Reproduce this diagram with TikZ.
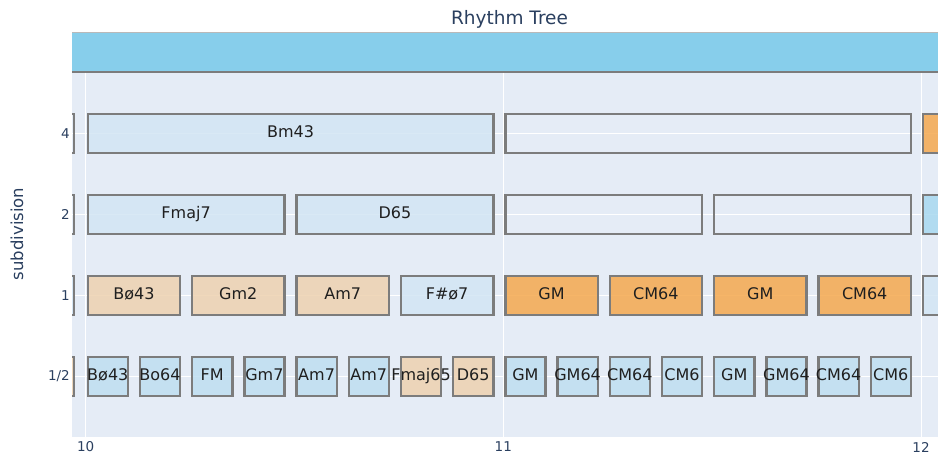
\documentclass[tikz,border=0pt]{standalone}
\usepackage{fontspec}
\setmainfont{DejaVu Sans}
\usepackage{xcolor}
\usepackage{tikz}

\definecolor{plotbg}{HTML}{E5ECF6}
\definecolor{band}{HTML}{87CEEB}
\definecolor{paleblue}{HTML}{D3E6F4}
\definecolor{halfblue}{HTML}{BFDFF1}
\definecolor{deepblue}{HTML}{A9D9EF}
\definecolor{peach}{HTML}{EED2B0}
\definecolor{tonic}{HTML}{F5A94E}
\definecolor{edge}{HTML}{7C7C7C}
\definecolor{axis}{HTML}{2A3F5F}

% chord names may run past the edges of a short box
\newcommand{\chord}[1]{\makebox[0pt]{#1}}

\begin{document}
\begin{tikzpicture}[x=1bp,y=-1bp,
        box/.style={draw=edge,line width=2.4bp,rectangle,inner sep=0pt,anchor=west,
            minimum height=39.5bp,fill opacity=.85,text opacity=1,text=black!88,
            text height=11.7bp,text depth=3bp,font=\fontsize{16bp}{19bp}\selectfont},
        w4/.style={box,minimum width=405.6bp},
        w2/.style={box,minimum width=196.8bp},
        w1/.style={box,minimum width=92.4bp},
        wh/.style={box,minimum width=40.2bp},
        tick/.style={text=axis,inner sep=0pt,font=\fontsize{13.5bp}{16bp}\selectfont}]

        \useasboundingbox (0,0) rectangle (938,455);

        %plot area and top band
        \fill[plotbg] (72,72) rectangle (938,437);
        \fill[band] (72,33) rectangle (938,71.5);
        \draw[gray!55,line width=1bp] (72,33) -- (938,33);
        \draw[edge,line width=2bp] (72,72) -- (938,72);

        %grid
        \draw[white,line width=1bp] (85.7,73) -- (85.7,437) (503.3,73) -- (503.3,437) (921,73) -- (921,437);
        \draw[white,line width=1bp] (72,133.5) -- (938,133.5) (72,214.5) -- (938,214.5)
            (72,295.5) -- (938,295.5) (72,376.5) -- (938,376.5);

        \begin{scope}
        \clip (72,72) rectangle (938,437);

        %level 4
        \node[w4,anchor=east] (s0) at (74.9,133.5){};
        \node[w4,fill=paleblue] (s1) at (86.5,133.5){Bm43};
        \node[w4] (s2) at (504.1,133.5){};
        \node[w4,fill=tonic] (s3) at (921.5,133.5){};

        %level 2
        \node[w2,anchor=east] (d0) at (74.9,214.5){};
        \node[w2,fill=paleblue] (d1) at (86.5,214.5){Fmaj7};
        \node[w2,fill=paleblue] (d2) at (295.3,214.5){D65};
        \node[w2] (d3) at (504.1,214.5){};
        \node[w2] (d4) at (712.9,214.5){};
        \node[w2,fill=deepblue] (d5) at (921.5,214.5){};

        %level 1
        \node[w1,anchor=east,fill=paleblue] (q0) at (74.9,295.5){};
        \node[w1,fill=peach] (q1) at (86.5,295.5){B\o 43};
        \node[w1,fill=peach] (q2) at (190.9,295.5){Gm2};
        \node[w1,fill=peach] (q3) at (295.3,295.5){Am7};
        \node[w1,fill=paleblue] (q4) at (399.7,295.5){F\#\o 7};
        \node[w1,fill=tonic] (q5) at (504.1,295.5){GM};
        \node[w1,fill=tonic] (q6) at (608.5,295.5){CM64};
        \node[w1,fill=tonic] (q7) at (712.9,295.5){GM};
        \node[w1,fill=tonic] (q8) at (817.3,295.5){CM64};
        \node[w1,fill=paleblue] (q9) at (921.5,295.5){};

        %level 1/2
        \node[wh,anchor=east,fill=peach] (e0) at (74.9,376.5){};
        \node[wh,fill=halfblue] (e1) at (86.5,376.5){\chord{B\o 43}};
        \node[wh,fill=halfblue] (e2) at (138.7,376.5){\chord{Bo64}};
        \node[wh,fill=halfblue] (e3) at (190.9,376.5){\chord{FM}};
        \node[wh,fill=halfblue] (e4) at (243.1,376.5){\chord{Gm7}};
        \node[wh,fill=halfblue] (e5) at (295.3,376.5){\chord{Am7}};
        \node[wh,fill=halfblue] (e6) at (347.5,376.5){\chord{Am7}};
        \node[wh,fill=peach] (e7) at (399.7,376.5){\chord{Fmaj65}};
        \node[wh,fill=peach] (e8) at (451.9,376.5){\chord{D65}};
        \node[wh,fill=halfblue] (e9) at (504.1,376.5){\chord{GM}};
        \node[wh,fill=halfblue] (e10) at (556.3,376.5){\chord{GM64}};
        \node[wh,fill=halfblue] (e11) at (608.5,376.5){\chord{CM64}};
        \node[wh,fill=halfblue] (e12) at (660.7,376.5){\chord{CM6}};
        \node[wh,fill=halfblue] (e13) at (712.9,376.5){\chord{GM}};
        \node[wh,fill=halfblue] (e14) at (765.1,376.5){\chord{GM64}};
        \node[wh,fill=halfblue] (e15) at (817.3,376.5){\chord{CM64}};
        \node[wh,fill=halfblue] (e16) at (869.5,376.5){\chord{CM6}};
        \end{scope}

        %axes
        \node[tick,anchor=east] (y4) at (70,133.5){4};
        \node[tick,anchor=east] (y2) at (70,214.5){2};
        \node[tick,anchor=east] (y1) at (70,295.5){1};
        \node[tick,anchor=east] (yh) at (70,376.5){1/2};
        \node[tick] (x10) at (85.7,447){10};
        \node[tick] (x11) at (503.3,447){11};
        \node[tick] (x12) at (921,447){12};
        \node[text=axis,rotate=90,font=\fontsize{16.5bp}{19bp}\selectfont] (ylabel) at (17,234){subdivision};
        \node[text=axis,font=\fontsize{18.5bp}{22bp}\selectfont] (title) at (509.5,19.5){Rhythm Tree};
\end{tikzpicture}
\end{document}
